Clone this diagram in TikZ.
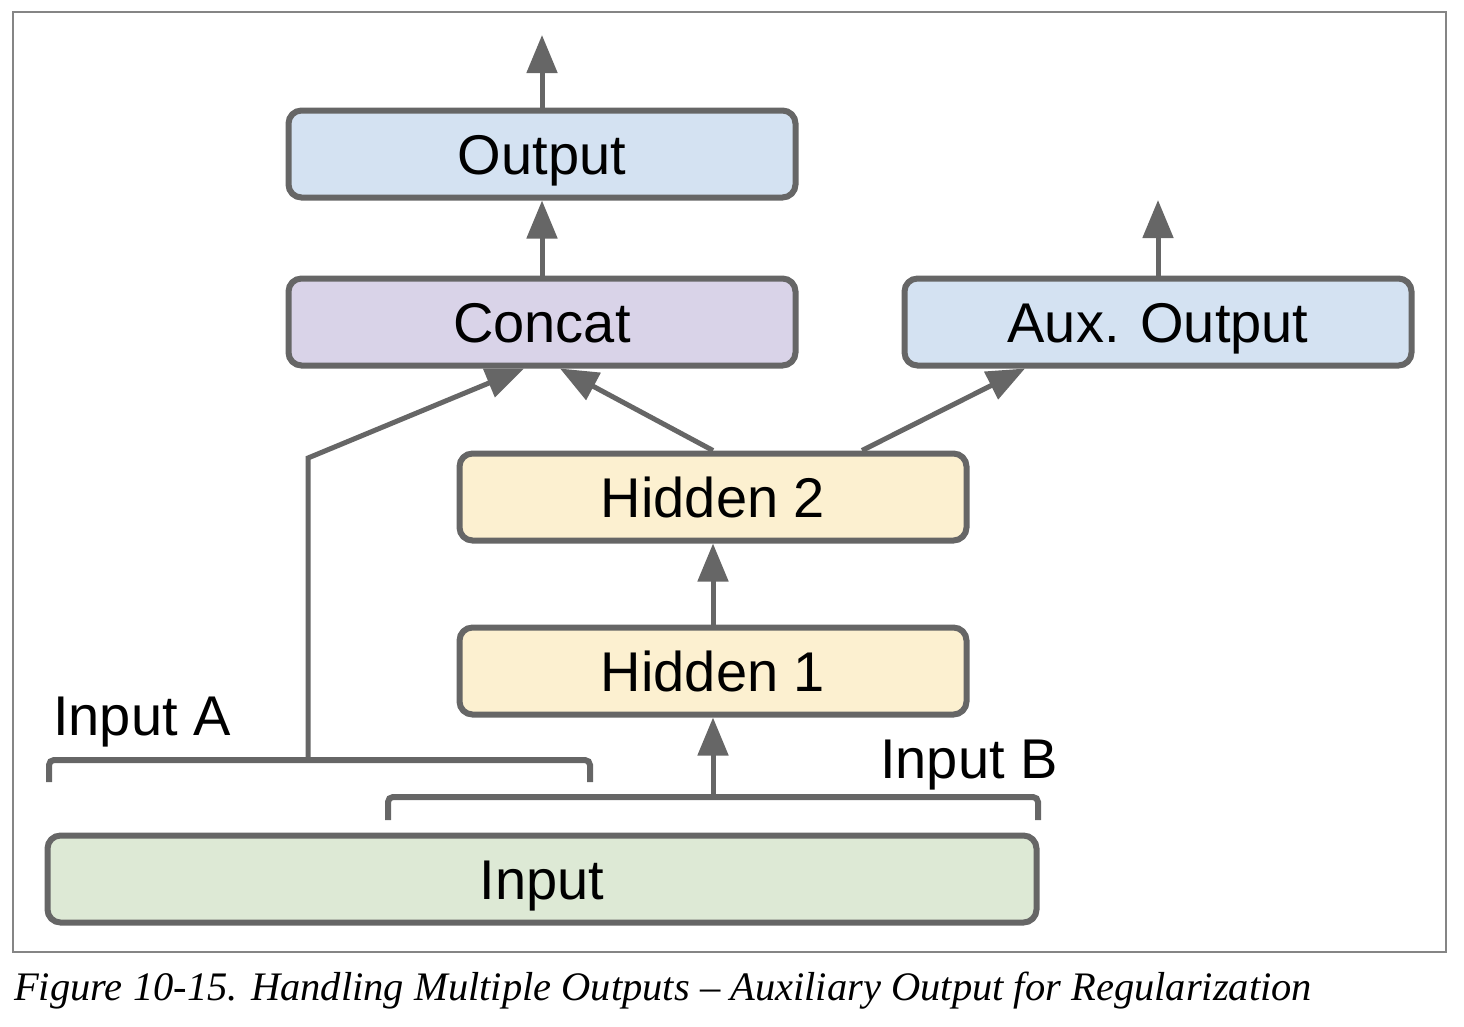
\documentclass[tikz,border=0pt]{standalone}
\usepackage{fontspec}
\setmainfont{Liberation Sans}
\newfontfamily\capfont{Liberation Serif}
\usetikzlibrary{arrows.meta}
\definecolor{edgegray}{RGB}{102,102,102}
\definecolor{outblue}{RGB}{212,226,242}
\definecolor{catviolet}{RGB}{217,211,232}
\definecolor{hidyellow}{RGB}{252,240,208}
\definecolor{ingreen}{RGB}{221,233,213}
\begin{document}
\begin{tikzpicture}[x=1pt,y=-1pt,
    layer/.style={draw=edgegray, line width=6pt, rounded corners=13pt,
        minimum width=507pt, minimum height=87pt, inner sep=0pt,
        text height=40pt, text depth=0pt,
        font=\fontsize{56}{60}\selectfont},
    flow/.style={draw=edgegray, line width=5pt,
        -{Triangle[length=38pt,width=30pt]}},
    brace/.style={draw=edgegray, line width=6pt, rounded corners=5pt},
    lbl/.style={font=\fontsize{56}{60}\selectfont, anchor=base west, inner sep=0pt}]
    \useasboundingbox (0,0) rectangle (1464,1026);
    \draw[edgegray!80, line width=1.5pt] (13,12) rectangle (1446,952);

    \node[layer, fill=outblue] (out) at (542,154) {Output};
    \node[layer, fill=catviolet] (cat) at (542,322) {Concat};
    \node[layer, fill=outblue] (aux) at (1158,322) {Aux. Output};
    \node[layer, fill=hidyellow] (hid2) at (713,497) {Hidden 2};
    \node[layer, fill=hidyellow] (hid1) at (713,671) {Hidden 1};
    \node[layer, fill=ingreen, minimum width=989pt] (inp) at (542,879) {Input};

    % brackets over the input
    \draw[brace] (49,782) -- (49,760) -- (590,760) -- (590,782);
    \draw[brace] (388,820) -- (388,797) -- (1038,797) -- (1038,820);
    \coordinate (a) at (308,760);
    \coordinate (b) at (713,797);
    \coordinate (bend) at (308,458);
    \node[lbl] (la) at (53,735) {Input A};
    \node[lbl] (lb) at (880,778) {Input B};

    \coordinate (top) at (542,35);
    \coordinate (auxtop) at (1158,200);
    \draw[flow] (out.north) -- (top);
    \draw[flow] (cat.north) -- (out.south);
    \draw[flow] (aux.north) -- (auxtop);
    \draw[flow] (hid1.north) -- (hid2.south);
    \draw[flow] (b) -- (hid1.south);
    \draw[flow] (hid2.north) -- ([xshift=18pt]cat.south);
    \draw[flow] ([xshift=149pt]hid2.north) -- ([xshift=-133pt]aux.south);
    \draw[flow] (a) -- (bend) -- ([xshift=-18pt]cat.south);

    \node[anchor=base west, inner sep=0pt, font=\capfont\itshape\fontsize{40.5}{44}\selectfont]
        (cap) at (14,1000) {Figure 10-15. Handling Multiple Outputs – Auxiliary Output for Regularization};
\end{tikzpicture}
\end{document}
